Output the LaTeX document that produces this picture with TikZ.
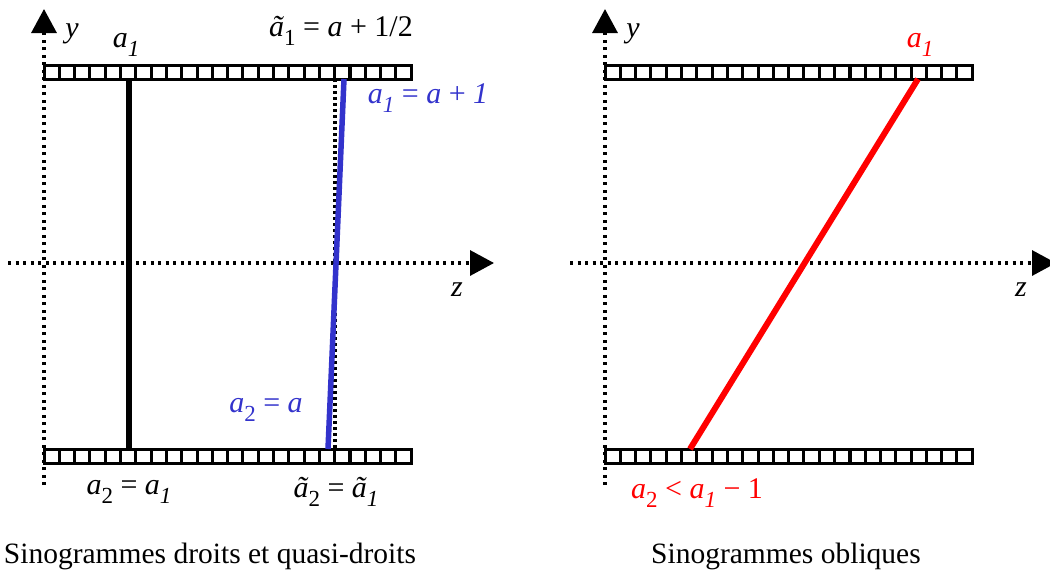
\documentclass[tikz,border=0pt]{standalone}
\usepackage{fontspec}
\setmainfont{Liberation Serif}
\usepackage{tikz}
\usetikzlibrary{arrows.meta,positioning,calc}
\definecolor{sinoblue}{RGB}{51, 51, 204}
\definecolor{sinored}{RGB}{255, 0, 0}
\newcommand{\idx}[1]{\raisebox{-0.3em}{\fontsize{23}{23}\selectfont #1}}

\begin{document}
\begin{tikzpicture}[x=1pt, y=-1pt, font=\fontsize{30}{32}\selectfont,
  >={Triangle[length=24pt, width=25pt]},
  dotaxis/.style={->, line width=3.3pt, dash pattern=on 3pt off 4.5pt},
  cellbox/.style={draw, line width=3pt},
  ray/.style={line width=5.5pt},
  caption/.style={font=\fontsize{29.5}{31}\selectfont}]
\useasboundingbox (0,0) rectangle (1050,579);
% detector strips, 24 cells each
\foreach \sx/\sy in {44/65, 44/449, 605/65, 605/449} {
  \foreach \i in {0,...,23}
    \draw[cellbox] ({\sx+\i*15.3},\sy) rectangle ++(15.3,14);
}
\foreach \sy in {65, 449} {
  \draw[line width=4pt] (350,\sy) -- ++(0,14);
  \draw[line width=4pt] (850,\sy) -- ++(0,14);
}
% axes
\coordinate (lyb) at (44,485);   \coordinate (lyt) at (44,9);
\coordinate (lzl) at (8,263);    \coordinate (lzr) at (494,263);
\coordinate (ryb) at (605,485);  \coordinate (ryt) at (605,9);
\coordinate (rzl) at (570,263);  \coordinate (rzr) at (1056,263);
\draw[dotaxis] (lyb) -- (lyt);
\draw[dotaxis] (lzl) -- (lzr);
\draw[dotaxis] (ryb) -- (ryt);
\draw[dotaxis] (rzl) -- (rzr);
% sinogram rays
\coordinate (blk1) at (129,79);  \coordinate (blk2) at (129,449);
\coordinate (mid1) at (335,79);  \coordinate (mid2) at (335,449);
\coordinate (blu1) at (344,79);  \coordinate (blu2) at (328,449);
\coordinate (red1) at (918,79);  \coordinate (red2) at (690,449);
\draw[ray] (blk1) -- (blk2);
\draw[line width=4pt, dash pattern=on 3pt off 3pt] (mid1) -- (mid2);
\draw[ray, sinoblue] (blu1) -- (blu2);
\draw[ray, line width=6pt, sinored] (red1) -- (red2);
% labels, left panel
\node (ylabL) at (72,34) {\textit{y}};
\node (zlabL) at (457,290) {\textit{z}};
\node (a1L) at (126,45) {\textit{a}\idx{\textit{1}}};
\node (at1) at (341,31) {\textit{ã}\idx{1} = \textit{a} + 1/2};
\node[text=sinoblue] (a1blu) at (428,98) {\textit{a}\idx{\textit{1}} = \textit{a} + \textit{1}};
\node[text=sinoblue] (a2blu) at (266,410) {\textit{a}\idx{2} = \textit{a}};
\node (a2L) at (129,492) {\textit{a}\idx{2} = \textit{a}\idx{\textit{1}}};
\node (at2) at (336,492) {\textit{ã}\idx{2} = \textit{ã}\idx{\textit{1}}};
% labels, right panel
\node (ylabR) at (633,34) {\textit{y}};
\node (zlabR) at (1021,290) {\textit{z}};
\node[text=sinored] (a1red) at (920,45) {\textit{a}\idx{\textit{1}}};
\node[text=sinored] (a2red) at (697,493) {\textit{a}\idx{2} < \textit{a}\idx{\textit{1}} − 1};
% captions
\node[caption] (capL) at (210,556) {Sinogrammes droits et quasi-droits};
\node[caption] (capR) at (786,556) {Sinogrammes obliques};
\end{tikzpicture}
\end{document}
